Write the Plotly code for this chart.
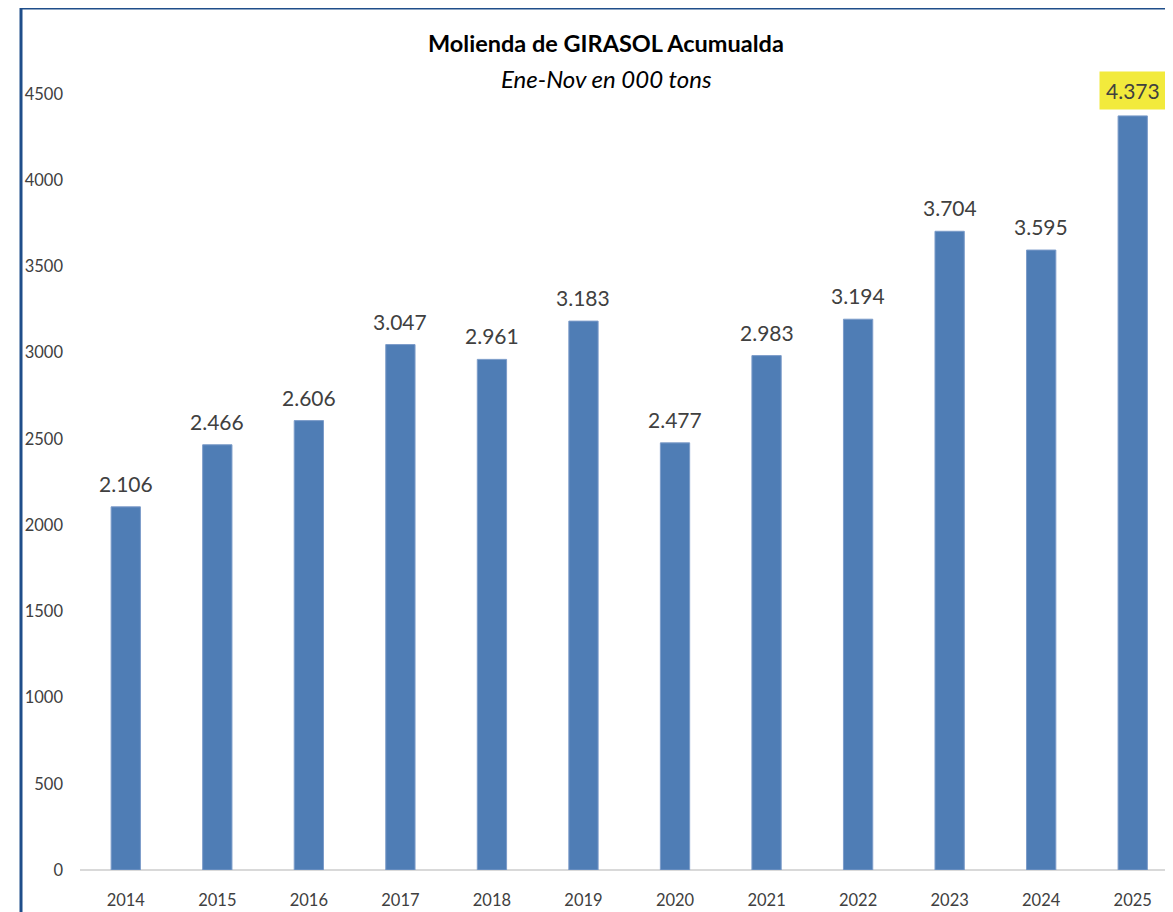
import plotly.graph_objects as go

years = ["2014", "2015", "2016", "2017", "2018", "2019", "2020", "2021", "2022", "2023", "2024", "2025"]
values = [2106, 2466, 2606, 3047, 2961, 3183, 2477, 2983, 3194, 3704, 3595, 4373]
y_ticks = [0, 500, 1000, 1500, 2000, 2500, 3000, 3500, 4000, 4500]
highlight_year = "2025"

OFF = 8  # page body margin
W, H = 1173 - OFF, 912 - OFF
ml, mr, mt, mb = 80 - OFF, 0, 60 - OFF, 42
pw = W - ml - mr
ph = H - mt - mb
FONT = "Lato, Open Sans, sans-serif"

fig = go.Figure(go.Bar(
    x=years, y=values,
    marker=dict(color="#4F7DB5", line=dict(color="#7C9CC9", width=1)),
    width=0.32,
    hoverinfo="x+y",
))

def fmt(v):
    return f"{v:,}".replace(",", ".")

annotations = []
for i, (yr, v) in enumerate(zip(years, values)):
    a = dict(
        x=i, y=v, xref="x", yref="y", text=fmt(v), showarrow=False,
        yanchor="bottom", yshift=9,
        font=dict(family=FONT, size=21, color="#404040"),
    )
    if yr == highlight_year:
        a.update(bgcolor="#F2EA3C", borderpad=6, yshift=6)
    annotations.append(a)

def py(pix):
    return 1 - (pix - OFF - mt) / ph

def px(pix):
    return (pix - OFF - ml) / pw

annotations.append(dict(
    text="<b>Molienda de GIRASOL Acumualda</b>", xref="paper", yref="paper",
    x=px(606), y=py(43), yanchor="middle", xanchor="center",
    showarrow=False, font=dict(family=FONT, size=23.5, color="#000000"),
))
annotations.append(dict(
    text="<i>Ene-Nov en 000 tons</i>", xref="paper", yref="paper",
    x=px(606), y=py(78), yanchor="middle", xanchor="center",
    showarrow=False, font=dict(family=FONT, size=24, color="#000000"),
))

fig.update_layout(
    width=W, height=H,
    margin=dict(l=ml, r=mr, t=mt, b=mb),
    paper_bgcolor="white", plot_bgcolor="white",
    showlegend=False,
    annotations=annotations,
    xaxis=dict(
        type="category", range=[-0.5, 11.44], showgrid=False, showline=False, zeroline=False,
        ticks="", tickfont=dict(family=FONT, size=16.5, color="#404040"),
        ticklabelstandoff=18,
    ),
    yaxis=dict(
        range=[0, ph * 4500 / 776], tickvals=y_ticks, showgrid=False,
        zeroline=True, zerolinecolor="#D9D9D9", zerolinewidth=2, showline=False,
        ticks="", tickfont=dict(family=FONT, size=16.5, color="#404040"),
        ticklabelstandoff=16,
    ),
    shapes=[
        dict(type="line", xref="paper", yref="paper",
             x0=px(21), x1=px(21), y0=py(8), y1=-0.2,
             line=dict(color="#1F4E8A", width=3)),
        dict(type="line", xref="paper", yref="paper",
             x0=px(21), x1=1.2, y0=py(8), y1=py(8),
             line=dict(color="#1F4E8A", width=3)),
    ],
)

fig.write_html("out.html")
